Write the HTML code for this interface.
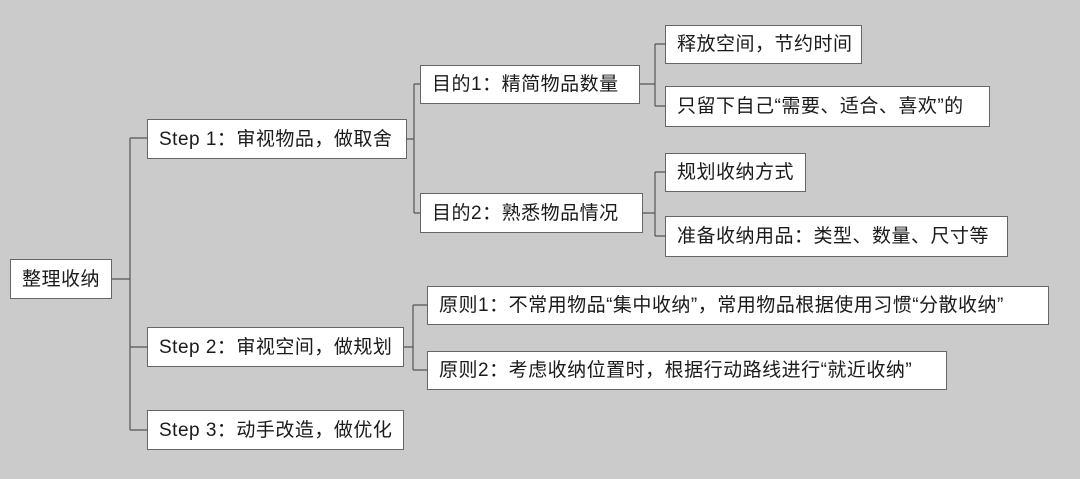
<!DOCTYPE html>
<html><head><meta charset="utf-8"><style>
body{margin:0;width:1080px;height:479px;background:#cbcbcb;position:relative;overflow:hidden;font-family:"Liberation Sans","Noto Sans CJK SC",sans-serif;}
.b{position:absolute;background:#fff;border:1px solid #666;box-sizing:border-box;font-size:19px;color:#1a1a1a;line-height:1;display:flex;align-items:center;padding-left:11px;white-space:nowrap;letter-spacing:0.5px;}
svg{position:absolute;left:0;top:0}
</style></head><body>
<svg width="1080" height="479"><g stroke="#555" stroke-width="1.2" fill="none">
<path d="M112 279H130M130 138V430M130 138H147M130 347H147M130 430H147"/>
<path d="M406 139H414M414 84V213M414 84H420M414 213H420"/>
<path d="M640 84H655M655 44V106M655 44H665M655 106H665"/>
<path d="M643 213H655M655 172V236M655 172H665M655 236H665"/>
<path d="M404 347H413M413 305V370M413 305H427M413 370H427"/>
</g></svg>
<div class="b" style="left:10px;top:259px;width:102px;height:40px">整理收纳</div>
<div class="b" style="left:147px;top:119px;width:260px;height:40px">Step 1：审视物品，做取舍</div>
<div class="b" style="left:147px;top:327px;width:257px;height:40px">Step 2：审视空间，做规划</div>
<div class="b" style="left:147px;top:410px;width:257px;height:40px">Step 3：动手改造，做优化</div>
<div class="b" style="left:420px;top:65px;width:220px;height:39px">目的1：精简物品数量</div>
<div class="b" style="left:420px;top:193px;width:223px;height:40px">目的2：熟悉物品情况</div>
<div class="b" style="left:665px;top:25px;width:197px;height:39px">释放空间，节约时间</div>
<div class="b" style="left:665px;top:86px;width:325px;height:41px">只留下自己“需要、适合、喜欢”的</div>
<div class="b" style="left:665px;top:153px;width:141px;height:39px">规划收纳方式</div>
<div class="b" style="left:665px;top:216px;width:343px;height:41px">准备收纳用品：类型、数量、尺寸等</div>
<div class="b" style="left:427px;top:286px;width:622px;height:39px">原则1：不常用物品“集中收纳”，常用物品根据使用习惯“分散收纳”</div>
<div class="b" style="left:427px;top:351px;width:520px;height:39px">原则2：考虑收纳位置时，根据行动路线进行“就近收纳”</div>
</body></html>
